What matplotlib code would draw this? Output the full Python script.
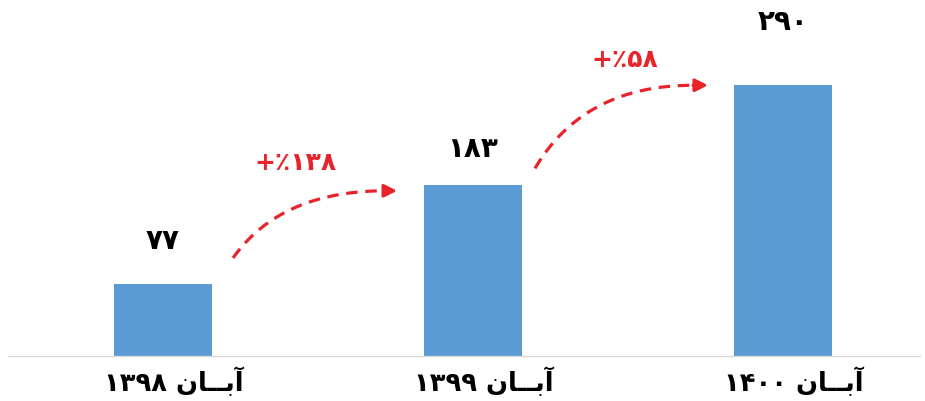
import matplotlib
matplotlib.use("Agg")
import matplotlib.pyplot as plt
import matplotlib.transforms as mtransforms
import numpy as np

# Data
categories = ["\u06F1\u06F3\u06F9\u06F8 \uFEE5\uFE8E\u0640\u0640\uFE91\uFE81",   # آبان ۱۳۹۸ (visual order)
              "\u06F1\u06F3\u06F9\u06F9 \uFEE5\uFE8E\u0640\u0640\uFE91\uFE81",   # آبان ۱۳۹۹
              "\u06F1\u06F4\u06F0\u06F0 \uFEE5\uFE8E\u0640\u0640\uFE91\uFE81"]   # آبان ۱۴۰۰
values = [77, 183, 290]
value_labels = ["\u06F7\u06F7", "\u06F1\u06F8\u06F3", "\u06F2\u06F9\u06F0"]
growth_labels = ["+\u066A\u06F1\u06F3\u06F8", "+\u066A\u06F5\u06F8"]

BAR_COLOR = "#5b9bd5"
RED = "#e8232a"

plt.rcParams['font.family'] = ['DejaVu Sans']

fig = plt.figure(figsize=(9.25, 4.01), dpi=100)
ax = fig.add_axes([8/925, 45/401, 912/925, 351/401])

x = np.arange(len(values))
ax.bar(x, values, width=0.316, color=BAR_COLOR, zorder=2)
ax.set_xlim(-0.5, 2.442)
ax.set_ylim(0, 376)

for s in ['top', 'right', 'left']:
    ax.spines[s].set_visible(False)
ax.spines['bottom'].set_color('#d9d9d9')
ax.spines['bottom'].set_linewidth(1.0)
ax.set_yticks([])
ax.set_xticks(x)
ax.set_xticklabels(categories, fontsize=18.5, fontweight='bold')
ax.tick_params(axis='x', length=0, pad=8)
shift = mtransforms.ScaledTranslation(11/100, 0, fig.dpi_scale_trans)
for lbl in ax.get_xticklabels():
    lbl.set_transform(lbl.get_transform() + shift)

label_offsets = [43, 36, 63]  # pixels above bar top
for xi, v, lab, off in zip(x, values, value_labels, label_offsets):
    ax.annotate(lab, (xi, v), xytext=(0, off * 0.72), textcoords='offset points',
                ha='center', va='center', fontsize=20, fontweight='bold', color='black')

def bez(p0, p1, p2, n=60):
    t = np.linspace(0, 1, n)[:, None]
    p0, p1, p2 = map(np.array, (p0, p1, p2))
    return (1 - t) ** 2 * p0 + 2 * (1 - t) * t * p1 + t ** 2 * p2

arrows = [((0.226, 105), (0.72, 177), 0.755), ((1.2, 201), (1.71, 290), 1.758)]
label_pos = [(0.426, 207), (1.49, 317)]
for (s, e, tip), lab, lp in zip(arrows, growth_labels, label_pos):
    ctrl = (s[0] + 0.31 * (e[0] - s[0]), e[1])
    pts = bez(s, ctrl, e)
    ax.plot(pts[:, 0], pts[:, 1], color=RED, lw=2.3, dashes=(3.6, 2.4),
            solid_capstyle='butt', dash_capstyle='butt', zorder=3)
    ax.annotate('', xy=(tip, e[1]), xytext=(e[0], e[1]),
                arrowprops=dict(arrowstyle='-|>,head_length=0.75,head_width=0.38',
                                color=RED, lw=2.3, shrinkA=0, shrinkB=0))
    ax.text(lp[0], lp[1], lab, ha='center', va='center', fontsize=18,
            fontweight='bold', color=RED)

fig.savefig("out.png", dpi=100, facecolor='white')
